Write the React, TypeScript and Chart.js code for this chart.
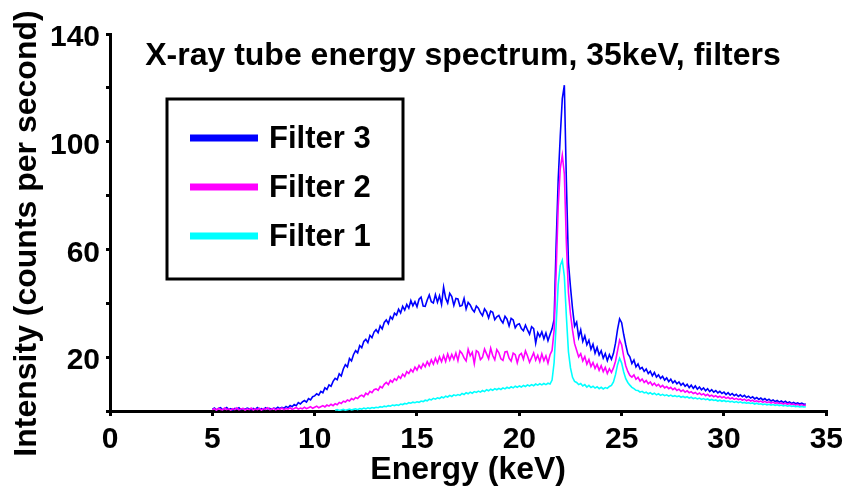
import React, { useEffect, useRef } from "react";
import { Chart, registerables } from "chart.js";

Chart.register(...registerables);

const TITLE = "X-ray tube energy spectrum, 35keV, filters";
const X_TITLE = "Energy (keV)";
const Y_TITLE = "Intensity (counts per second)";
const X_TICKS = [0, 5, 10, 15, 20, 25, 30, 35];
const Y_TICKS = [0, 20, 40, 60, 80, 100, 120, 140];
const Y_LABELED = [20, 60, 100, 140];
const SERIES_NAMES = ["Filter 3", "Filter 2", "Filter 1"];
const SERIES_COLORS = ["#0000FF", "#FF00FF", "#00FFFF"];
const ENERGY_STEP = 0.1;

// Filter 3 (blue), channels from 5.0 keV in 0.1 keV steps
const FILTER3_START = 5.0;
const FILTER3 = [
  0.6, 1.1, 0.4, 0.9, 1.2, 0.5, 0.8, 1.3, 0.6, 0.9,
  0.4, 1.0, 0.7, 1.2, 0.5, 0.9, 0.6, 1.1, 0.8, 0.5,
  1.0, 0.6, 1.3, 0.7, 0.9, 0.5, 1.2, 0.8, 1.0, 0.6,
  1.1, 0.8, 1.4, 0.9, 1.3, 1.0, 1.7, 1.2, 2.0, 1.6,
  2.4, 2.0, 3.1, 2.6, 3.4, 3.9, 3.3, 4.6, 4.1, 5.3,
  5.6, 6.4, 5.9, 7.3, 6.8, 8.6, 8.0, 9.7, 9.2, 11.0,
  12.1, 11.6, 13.8, 13.0, 15.6, 17.2, 16.4, 19.5, 18.6, 21.0,
  22.4, 21.6, 24.3, 23.5, 25.8, 26.6, 25.4, 28.1, 27.2, 29.3,
  30.2, 29.1, 31.6, 30.5, 32.9, 33.8, 32.4, 35.0, 34.1, 36.3,
  35.6, 37.8, 36.4, 38.9, 37.5, 39.6, 38.2, 41.0, 39.1, 40.6,
  38.7, 41.5, 42.3, 39.0, 38.9, 41.2, 43.1, 40.6, 40.1, 43.2,
  40.4, 42.8, 39.6, 46.0, 41.9, 40.1, 43.7, 42.5, 39.2, 41.8,
  41.6, 38.9, 39.2, 41.8, 37.9, 40.3, 39.4, 37.8, 36.8, 39.0,
  38.2, 36.5, 35.4, 37.9, 36.8, 34.6, 37.1, 36.7, 33.9, 35.0,
  35.5, 33.8, 32.7, 35.2, 34.1, 31.6, 34.4, 33.8, 30.9, 32.1,
  32.4, 30.6, 29.8, 31.9, 30.1, 28.5, 31.3, 30.6, 25.2, 29.1,
  27.6, 29.4, 26.8, 29.0, 26.1, 28.4, 30.5, 34.0, 62.0, 86.0,
  102.0, 116.0, 121.0, 85.0, 55.0, 46.0, 38.0, 31.5, 33.0, 27.4,
  30.1, 25.8, 27.9, 24.6, 26.3, 22.9, 24.8, 21.5, 23.6, 20.8,
  22.4, 19.6, 21.3, 18.7, 20.9, 19.2, 21.4, 25.2, 30.3, 34.2,
  32.8, 28.4, 24.6, 21.3, 20.1, 17.6, 18.9, 16.4, 17.5, 15.6,
  16.2, 14.7, 15.6, 13.9, 14.8, 13.1, 14.3, 12.6, 13.4, 12.1,
  12.9, 11.5, 12.3, 10.9, 11.8, 10.4, 11.2, 10.1, 10.8, 9.6,
  10.3, 9.2, 9.9, 8.7, 9.6, 8.4, 9.3, 8.1, 8.9, 7.9,
  8.6, 7.5, 8.3, 7.2, 7.9, 7.0, 7.6, 6.7, 7.3, 6.5,
  7.0, 6.1, 6.8, 5.9, 6.5, 5.7, 6.2, 5.4, 6.0, 5.3,
  5.8, 5.0, 5.5, 4.8, 5.3, 4.5, 5.0, 4.3, 4.8, 4.1,
  4.6, 3.9, 4.4, 3.7, 4.1, 3.5, 3.9, 3.3, 3.7, 3.2,
  3.6, 3.0, 3.4, 2.8, 3.2, 2.7, 3.0, 2.6, 2.9, 2.5,
  2.6,
];

// Filter 2 (magenta)
const FILTER2_START = 5.0;
const FILTER2 = [
  0.5, 0.9, 0.3, 1.0, 0.6, 0.4, 1.1, 0.5, 0.8, 0.3,
  0.9, 0.5, 1.2, 0.4, 0.7, 1.0, 0.3, 0.8, 0.5, 1.1,
  0.4, 0.8, 0.5, 1.0, 0.3, 0.9, 0.6, 1.2, 0.5, 0.7,
  1.0, 0.4, 0.8, 0.6, 1.1, 0.5, 0.9, 0.7, 1.2, 0.6,
  0.9, 1.3, 0.7, 1.1, 0.8, 1.4, 0.9, 1.2, 1.6, 1.0,
  1.4, 1.8, 1.2, 1.6, 2.0, 1.5, 2.2, 1.8, 2.5, 2.0,
  2.7, 2.3, 3.2, 2.8, 3.6, 3.3, 4.1, 3.7, 4.6, 4.2,
  5.0, 4.6, 5.5, 5.9, 5.3, 6.6, 6.1, 7.3, 6.8, 7.9,
  8.2, 7.7, 9.1, 8.6, 9.9, 10.6, 9.8, 11.4, 10.7, 12.0,
  11.4, 12.9, 12.1, 13.7, 12.8, 14.6, 13.9, 15.4, 14.5, 16.3,
  15.2, 16.9, 15.8, 17.6, 16.4, 18.3, 16.9, 19.0, 17.4, 19.6,
  17.8, 20.1, 18.3, 20.6, 18.4, 21.2, 18.9, 21.0, 19.2, 21.5,
  18.7, 22.3, 21.4, 19.7, 18.6, 22.9, 20.5, 21.8, 17.6, 22.4,
  21.8, 19.1, 19.9, 23.0, 21.2, 19.4, 23.3, 20.6, 19.0, 22.8,
  21.6, 19.4, 18.8, 21.9, 22.1, 19.6, 18.5, 21.5, 20.9, 17.9,
  20.7, 21.4, 19.2, 22.3, 20.4, 18.1, 19.8, 21.6, 18.9, 20.7,
  18.3, 21.2, 18.7, 20.5, 17.8, 20.9, 22.5, 30.0, 52.0, 76.0,
  90.0, 95.0, 88.0, 62.0, 44.0, 36.0, 30.0, 25.0, 22.6, 20.1,
  21.3, 18.6, 20.2, 17.4, 19.1, 16.5, 18.0, 15.8, 17.3, 15.1,
  16.8, 14.6, 16.2, 13.9, 15.7, 14.3, 16.0, 18.5, 22.4, 26.3,
  24.6, 20.3, 16.8, 14.7, 13.2, 12.6, 13.4, 11.8, 12.5, 11.1,
  11.9, 10.6, 11.3, 10.1, 10.8, 9.6, 10.3, 9.3, 9.9, 8.9,
  9.5, 8.6, 9.1, 8.3, 8.8, 7.9, 8.5, 7.6, 8.1, 7.3,
  7.8, 7.0, 7.5, 6.8, 7.2, 6.5, 6.9, 6.2, 6.7, 6.0,
  6.4, 5.7, 6.2, 5.5, 5.9, 5.3, 5.7, 5.1, 5.5, 4.9,
  5.3, 4.7, 5.1, 4.5, 4.9, 4.3, 4.7, 4.2, 4.5, 4.0,
  4.4, 3.8, 4.2, 3.7, 4.0, 3.5, 3.8, 3.4, 3.7, 3.2,
  3.6, 3.1, 3.4, 2.9, 3.3, 2.8, 3.1, 2.7, 3.0, 2.6,
  2.9, 2.5, 2.8, 2.4, 2.6, 2.2, 2.5, 2.1, 2.4, 2.0,
  2.2,
];

// Filter 1 (cyan)
const FILTER1_START = 11.0;
const FILTER1 = [
  0.3, 0.5, 0.2, 0.4, 0.6, 0.3, 0.5, 0.7, 0.4, 0.6,
  0.8, 0.5, 0.9, 0.7, 1.1, 0.8, 1.2, 0.9, 1.3, 1.1,
  1.4, 1.2, 1.6, 1.4, 1.8, 1.6, 2.0, 1.8, 2.2, 2.0,
  2.3, 2.1, 2.6, 2.4, 2.8, 2.6, 3.1, 2.9, 3.3, 3.1,
  3.4, 3.2, 3.7, 3.5, 4.0, 3.8, 4.4, 4.1, 4.7, 4.4,
  4.9, 4.6, 5.2, 4.9, 5.5, 5.2, 5.8, 5.4, 6.0, 5.7,
  6.1, 5.8, 6.5, 6.1, 6.8, 6.4, 7.0, 6.6, 7.2, 6.9,
  7.4, 7.0, 7.6, 7.2, 7.9, 7.5, 8.1, 7.7, 8.3, 7.9,
  8.4, 8.0, 8.6, 8.2, 8.8, 8.4, 9.0, 8.6, 9.2, 8.8,
  9.3, 8.9, 9.5, 9.1, 9.7, 9.3, 9.8, 9.4, 10.0, 9.6,
  10.1, 9.7, 10.2, 9.8, 10.3, 10.0, 11.5, 18.0, 32.0, 47.0,
  54.0, 56.0, 50.0, 35.0, 22.0, 16.0, 12.5, 11.0, 10.6, 9.8,
  10.2, 9.3, 9.8, 8.9, 9.5, 8.7, 9.2, 8.5, 9.0, 8.3,
  8.8, 8.2, 8.7, 8.4, 9.1, 9.5, 10.8, 13.5, 17.2, 19.6,
  17.8, 14.5, 12.0, 10.6, 9.6, 8.8, 8.3, 7.7, 7.6, 7.0,
  7.3, 6.7, 7.0, 6.4, 6.8, 6.2, 6.6, 6.0, 6.4, 5.8,
  6.2, 5.7, 6.0, 5.5, 5.9, 5.4, 5.7, 5.3, 5.6, 5.1,
  5.4, 5.0, 5.3, 4.8, 5.1, 4.6, 4.9, 4.5, 4.8, 4.3,
  4.6, 4.2, 4.5, 4.0, 4.3, 3.9, 4.1, 3.7, 4.0, 3.6,
  3.9, 3.5, 3.7, 3.4, 3.6, 3.2, 3.5, 3.1, 3.4, 3.0,
  3.2, 2.9, 3.1, 2.8, 3.0, 2.6, 2.9, 2.5, 2.7, 2.4,
  2.6, 2.3, 2.5, 2.2, 2.4, 2.1, 2.3, 2.0, 2.2, 1.9,
  2.1, 1.8, 2.0, 1.7, 1.9, 1.6, 1.8, 1.5, 1.7, 1.5,
  1.6,
];

const FONT = '"Liberation Sans", Arial, Helvetica, sans-serif';

function toPoints(start: number, values: number[]) {
  return values.map((y, i) => ({ x: Math.round((start + i * ENERGY_STEP) * 100) / 100, y }));
}

const decorPlugin = {
  id: "decor",
  afterDraw(chart: any) {
    const ctx = chart.ctx as CanvasRenderingContext2D;
    const area = chart.chartArea;
    ctx.save();
    ctx.fillStyle = "#000";
    // Chart title inside plot
    ctx.font = `bold 32px ${FONT}`;
    ctx.textAlign = "center";
    ctx.textBaseline = "alphabetic";
    ctx.fillText(TITLE, 463, 65);
    // Y axis title
    ctx.save();
    ctx.translate(27, (area.top + area.bottom) / 2 + 11);
    ctx.rotate(-Math.PI / 2);
    ctx.textAlign = "center";
    ctx.textBaseline = "middle";
    ctx.fillText(Y_TITLE, 0, 0);
    ctx.restore();
    // Legend box
    const bx = 167, by = 99, bw = 236, bh = 180;
    ctx.fillStyle = "#fff";
    ctx.fillRect(bx, by, bw, bh);
    ctx.lineWidth = 3;
    ctx.strokeStyle = "#000";
    ctx.strokeRect(bx, by, bw, bh);
    const rowsY = [138, 187, 236];
    SERIES_NAMES.forEach((name, i) => {
      const y = rowsY[i];
      ctx.strokeStyle = SERIES_COLORS[i];
      ctx.lineWidth = 7;
      ctx.beginPath();
      ctx.moveTo(190, y);
      ctx.lineTo(258, y);
      ctx.stroke();
      ctx.fillStyle = "#000";
      ctx.font = `bold 31px ${FONT}`;
      ctx.textAlign = "left";
      ctx.textBaseline = "alphabetic";
      ctx.fillText(name, 269, y + 10);
    });
    ctx.restore();
  },
};

export default function App() {
  const ref = useRef<HTMLCanvasElement | null>(null);
  useEffect(() => {
    if (!ref.current) return;
    const seriesData = [
      toPoints(FILTER3_START, FILTER3),
      toPoints(FILTER2_START, FILTER2),
      toPoints(FILTER1_START, FILTER1),
    ];
    const chart = new Chart(ref.current, {
      type: "line",
      data: {
        datasets: SERIES_NAMES.map((name, i) => ({
          label: name,
          data: seriesData[i],
          borderColor: SERIES_COLORS[i],
          backgroundColor: SERIES_COLORS[i],
          borderWidth: 1.6,
          pointRadius: 0,
          tension: 0,
          fill: false,
          order: 2 - i,
        })),
      },
      options: {
        animation: false,
        responsive: false,
        maintainAspectRatio: false,
        events: [],
        layout: { padding: { top: 34, right: 21, left: 0, bottom: 0 } },
        plugins: {
          legend: { display: false },
          title: { display: false },
          tooltip: { enabled: false },
        },
        scales: {
          x: {
            type: "linear",
            min: 0,
            max: 35,
            afterBuildTicks: (s: any) => {
              s.ticks = X_TICKS.map((v) => ({ value: v }));
            },
            afterFit: (s: any) => {
              s.height = 80;
            },
            grid: {
              display: true,
              drawOnChartArea: false,
              drawTicks: true,
              tickLength: 5,
              tickWidth: 3,
              lineWidth: 3,
              color: "#000",
            },
            border: { display: true, color: "#000", width: 3 },
            ticks: {
              color: "#000",
              font: { family: FONT, size: 30, weight: "bold" },
              padding: 6,
              maxRotation: 0,
              autoSkip: false,
            },
            title: {
              display: true,
              text: X_TITLE,
              color: "#000",
              font: { family: FONT, size: 32, weight: "bold" },
              padding: { top: 0, bottom: 2 },
            },
          },
          y: {
            type: "linear",
            min: 0,
            max: 140,
            afterBuildTicks: (s: any) => {
              s.ticks = Y_TICKS.map((v) => ({ value: v }));
            },
            afterFit: (s: any) => {
              s.width = 110;
            },
            grid: {
              display: true,
              drawOnChartArea: false,
              drawTicks: true,
              tickLength: 4,
              tickWidth: 3,
              lineWidth: 3,
              color: "#000",
            },
            border: { display: true, color: "#000", width: 3 },
            ticks: {
              color: "#000",
              font: { family: FONT, size: 30, weight: "bold" },
              padding: 6,
              labelOffset: 4,
              autoSkip: false,
              callback: (v: any) => (Y_LABELED.includes(Number(v)) ? String(v) : ""),
            },
            title: { display: false },
          },
        },
      },
      plugins: [decorPlugin],
    });
    return () => chart.destroy();
  }, []);
  return (
    <div style={{ position: "absolute", left: 0, top: 0, width: 849, height: 491, background: "#fff" }}>
      <canvas ref={ref} width={849} height={491} style={{ display: "block", width: 849, height: 491 }} />
    </div>
  );
}
